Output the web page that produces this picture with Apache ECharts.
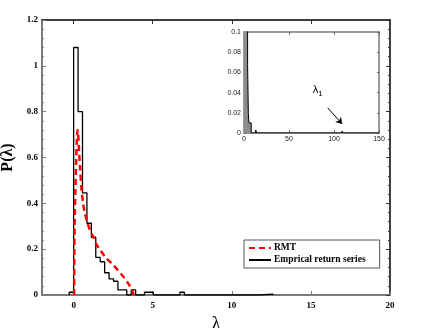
<!DOCTYPE html>
<html>
<head>
<meta charset="utf-8">
<script src="https://cdn.jsdelivr.net/npm/echarts@6/dist/echarts.min.js"></script>
<style>
  html, body { margin: 0; padding: 0; background: #fff; }
  #chart { width: 436px; height: 328px; }
</style>
</head>
<body>
<div id="chart"></div>
<script>
// main plot: empirical histogram (left bin edges + heights)
const histEdges = [-0.28, 0, 0.28, 0.56, 0.84, 1.12, 1.4, 1.68, 1.96, 2.24, 2.52, 2.8, 3.08, 3.36, 3.64, 3.92, 4.48, 5.04, 6.72, 7.0, 11.76, 12.6]
const histValues = [0.012, 1.08, 0.80, 0.446, 0.313, 0.252, 0.164, 0.145, 0.097, 0.07, 0.06, 0.022, 0.022, 0, 0.022, 0, 0.012, 0, 0.012, 0, 0.004, 0]

// RMT (Marchenko-Pastur) curve
const rmtX = [0.03, 0.06, 0.11, 0.16, 0.21, 0.25, 0.29, 0.35, 0.41, 0.5, 0.6, 0.7, 0.85, 1.0, 1.2, 1.45, 1.7, 2.0, 2.4, 2.8, 3.2, 3.5, 3.7, 3.8]
const rmtY = [0, 0.3, 0.45, 0.59, 0.69, 0.72, 0.70, 0.62, 0.55, 0.46, 0.40, 0.36, 0.32, 0.29, 0.26, 0.22, 0.195, 0.165, 0.138, 0.108, 0.075, 0.045, 0.02, 0]

// inset: full spectrum histogram
const insetEdges = [0, 4, 4.8, 5.5, 8, 13, 14, 109, 110, 150]
const insetValues = [1.0, 0.068, 0.02, 0.01, 0, 0.003, 0, 0.002, 0, 0]

const xTicks = [0, 5, 10, 15, 20]
const legendNames = ['RMT', 'Emprical return series']
const lambda1 = {text: 'λ', sub: '1', at: [82, 0.043], arrowFrom: [93, 0.025], arrowTo: [109, 0.009]}

const chart = echarts.init(document.getElementById('chart'))

const serif = '"Liberation Serif", "DejaVu Serif", serif'
const sans = '"Liberation Sans", "DejaVu Sans", sans-serif'

const histData = [[histEdges[0], 0]].concat(histEdges.map((e, i) => [e, histValues[i]]))
const rmtData = rmtX.map((x, i) => [x, rmtY[i]])
const insetData = insetEdges.map((e, i) => [e, insetValues[i]])

const grey = '#7a7a7a'

const option = {
  animation: false,
  backgroundColor: '#fff',
  grid: [
    {left: 42, right: 46, top: 20, bottom: 33, outerBoundsMode: 'none', containLabel: false},
    {left: 244, top: 32, width: 135, height: 101, outerBoundsMode: 'none', containLabel: false,
      show: true, backgroundColor: '#fff', borderWidth: 0}
  ],
  legend: {
    data: legendNames,
    orient: 'vertical',
    left: 244,
    top: 240,
    itemWidth: 22,
    itemHeight: 8,
    itemGap: 2,
    padding: [3, 14, 3, 4],
    borderColor: '#555',
    borderWidth: 1,
    backgroundColor: '#fff',
    itemStyle: {opacity: 0},
    textStyle: {fontFamily: serif, fontWeight: 'bold', fontSize: 9.5, color: '#000', padding: [0, 0, 0, -2]}
  },
  xAxis: [
    {
      type: 'value', gridIndex: 0, min: -2, max: 20,
      name: 'λ', nameLocation: 'middle', nameGap: 14,
      nameTextStyle: {fontFamily: serif, fontSize: 18, color: '#000'},
      axisLine: {onZero: false, lineStyle: {color: grey, width: 2}},
      axisTick: {inside: true, length: 4, customValues: xTicks, lineStyle: {color: grey}},
      axisLabel: {customValues: xTicks, margin: 6, fontFamily: serif, fontWeight: 'bold', fontSize: 9, color: '#000'},
      splitLine: {show: false}
    },
    {
      type: 'value', gridIndex: 0, min: -2, max: 20, position: 'top',
      axisLine: {onZero: false, lineStyle: {color: '#000', width: 1.5}},
      axisTick: {inside: true, length: 4, customValues: xTicks, lineStyle: {color: '#333'}},
      axisLabel: {show: false},
      splitLine: {show: false}
    },
    {
      type: 'value', gridIndex: 1, min: 0, max: 150, interval: 50,
      axisLine: {onZero: false, lineStyle: {color: '#999', width: 2}},
      axisTick: {inside: true, length: 3, lineStyle: {color: '#666'}},
      axisLabel: {margin: 3, fontFamily: sans, fontSize: 7, color: '#222'},
      splitLine: {show: false}
    },
    {
      type: 'value', gridIndex: 1, min: 0, max: 150, interval: 50, position: 'top',
      axisLine: {onZero: false, lineStyle: {color: '#999', width: 2}},
      axisTick: {inside: true, length: 3, lineStyle: {color: '#666'}},
      axisLabel: {show: false},
      splitLine: {show: false}
    }
  ],
  yAxis: [
    {
      type: 'value', gridIndex: 0, min: 0, max: 1.2, interval: 0.2,
      name: 'P(λ)', nameLocation: 'middle', nameGap: 20, nameRotate: 90,
      nameTextStyle: {fontFamily: serif, fontWeight: 'bold', fontSize: 16, color: '#000'},
      axisLine: {show: true, onZero: false, lineStyle: {color: grey, width: 2}},
      axisTick: {inside: true, length: 4, lineStyle: {color: grey}},
      minorTick: {show: true, splitNumber: 5, length: 2, lineStyle: {color: grey}},
      axisLabel: {margin: 4, fontFamily: serif, fontWeight: 'bold', fontSize: 9, color: '#000'},
      splitLine: {show: false}
    },
    {
      type: 'value', gridIndex: 0, min: 0, max: 1.2, interval: 0.2, position: 'right',
      axisLine: {show: true, onZero: false, lineStyle: {color: '#000', width: 1.5}},
      axisTick: {inside: true, length: 4, lineStyle: {color: '#333'}},
      minorTick: {show: true, splitNumber: 5, length: 2, lineStyle: {color: '#333'}},
      axisLabel: {show: false},
      splitLine: {show: false}
    },
    {
      type: 'value', gridIndex: 1, min: 0, max: 0.1, interval: 0.02,
      axisLine: {show: true, onZero: false, lineStyle: {color: '#999', width: 2}},
      axisTick: {inside: true, length: 2, lineStyle: {color: '#666'}},
      axisLabel: {margin: 3, fontFamily: sans, fontSize: 7, color: '#222'},
      splitLine: {show: false}
    },
    {
      type: 'value', gridIndex: 1, min: 0, max: 0.1, interval: 0.02, position: 'right',
      axisLine: {show: true, onZero: false, lineStyle: {color: '#999', width: 2}},
      axisTick: {inside: true, length: 2, lineStyle: {color: '#666'}},
      axisLabel: {show: false},
      splitLine: {show: false}
    }
  ],
  series: [
    {
      name: 'RMT',
      type: 'line',
      xAxisIndex: 0, yAxisIndex: 0,
      data: rmtData,
      smooth: 0.3,
      symbol: 'none',
      color: '#ff0000',
      lineStyle: {color: '#ff0000', width: 2.5, type: [6, 4]},
      z: 3
    },
    {
      name: 'Emprical return series',
      type: 'line',
      xAxisIndex: 0, yAxisIndex: 0,
      data: histData,
      step: 'end',
      symbol: 'none',
      color: '#000',
      lineStyle: {color: '#000', width: 1.3},
      z: 2
    },
    {
      name: 'inset',
      type: 'line',
      xAxisIndex: 2, yAxisIndex: 2,
      data: insetData,
      step: 'end',
      symbol: 'none',
      clip: true,
      lineStyle: {color: '#000', width: 1},
      areaStyle: {color: '#8c8c8c', opacity: 1},
      markLine: {
        silent: true,
        symbol: ['none', 'arrow'],
        symbolSize: 6,
        label: {show: false},
        lineStyle: {color: '#000', width: 1, type: 'solid'},
        data: [[{coord: lambda1.arrowFrom}, {coord: lambda1.arrowTo}]]
      },
      markPoint: {
        silent: true,
        symbol: 'circle',
        symbolSize: 1,
        itemStyle: {color: 'rgba(0,0,0,0)'},
        label: {
          show: true,
          position: 'inside',
          formatter: '{a|' + lambda1.text + '}{b|' + lambda1.sub + '}',
          rich: {
            a: {fontFamily: sans, fontSize: 11, color: '#000'},
            b: {fontFamily: sans, fontSize: 8, color: '#000', padding: [8, 0, 0, 0]}
          }
        },
        data: [{coord: lambda1.at}]
      }
    }
  ]
}

chart.setOption(option)
</script>
</body>
</html>
